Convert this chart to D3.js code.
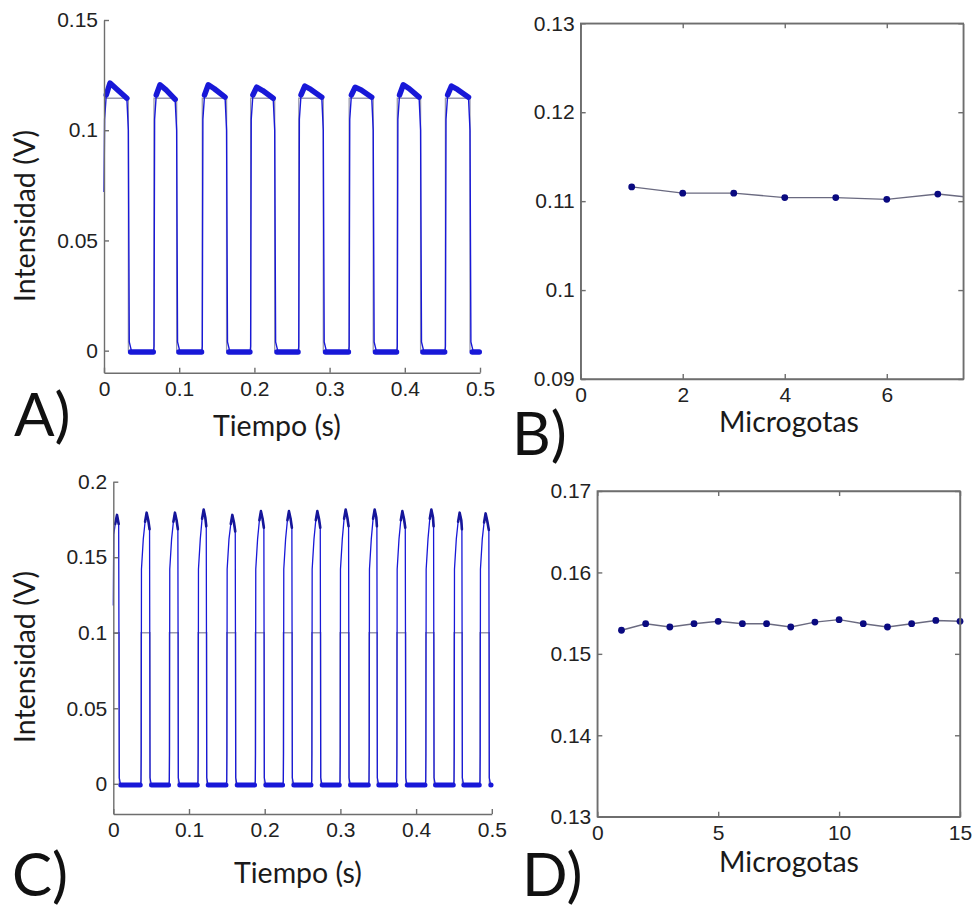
<!DOCTYPE html>
<html>
<head>
<meta charset="utf-8">
<script src="https://cdn.jsdelivr.net/npm/d3@7"></script>
<style>
  body { margin: 0; background: #ffffff; }
  svg { display: block; }
  .tick text { font-family: "Liberation Sans", Arial, sans-serif; font-size: 21px; fill: #222; }
  .ax path, .ax line { stroke: #6e6e6e; stroke-width: 1.4; }
  .title { font-family: Lato, "Open Sans", sans-serif; font-size: 28.5px; fill: #1a1a1a; }
  .letter { font-family: Lato, "Open Sans", sans-serif; font-size: 60px; fill: #111; }
</style>
</head>
<body>
<svg id="fig" width="975" height="914"></svg>
<script>
// ---------- Panel A: photodetector signal, 8 drops (time in s, intensity in V) ----------
const riseA = [0.000, 0.0665, 0.1307, 0.195, 0.259, 0.326, 0.390, 0.454];
const fallA = [0.0324, 0.0966, 0.163, 0.227, 0.2916, 0.358, 0.421, 0.4867];
const peakA = [0.1214, 0.1206, 0.1206, 0.1195, 0.1200, 0.1195, 0.1206, 0.1200];
const endA  = [0.1145, 0.1140, 0.1150, 0.1145, 0.1150, 0.1150, 0.1150, 0.1150];
const refLevelA = 0.1145;
const xTicksA = [0, 0.1, 0.2, 0.3, 0.4, 0.5];
const yTicksA = [0, 0.05, 0.1, 0.15];

// ---------- Panel B: mean intensity per microdrop ----------
const dropsB = [1, 2, 3, 4, 5, 6, 7, 8];
const valuesB = [0.1116, 0.1109, 0.1109, 0.1104, 0.1104, 0.1102, 0.1108, 0.1102];
const xTicksB = [0, 2, 4, 6];
const yTicksB = [0.09, 0.1, 0.11, 0.12, 0.13];

// ---------- Panel C: photodetector signal, 14 drops ----------
const riseC = [0.000, 0.0366, 0.0740, 0.1119, 0.1498, 0.1876, 0.2246, 0.2621, 0.2995, 0.3378, 0.3744, 0.4127, 0.4501, 0.4844];
const fallC = [0.0079, 0.0485, 0.0859, 0.1234, 0.1617, 0.1995, 0.2365, 0.2740, 0.3114, 0.3488, 0.3863, 0.4237, 0.4611, 0.4967];
const peakC = [0.1780, 0.1795, 0.1795, 0.1815, 0.1780, 0.1805, 0.1805, 0.1805, 0.1815, 0.1815, 0.1805, 0.1815, 0.1795, 0.1790];
const refLevelC = 0.1;
const xTicksC = [0, 0.1, 0.2, 0.3, 0.4, 0.5];
const yTicksC = [0, 0.05, 0.1, 0.15, 0.2];

// ---------- Panel D: mean intensity per microdrop ----------
const dropsD = [1, 2, 3, 4, 5, 6, 7, 8, 9, 10, 11, 12, 13, 14, 15];
const valuesD = [0.1529, 0.1537, 0.1533, 0.1537, 0.1540, 0.1537, 0.1537, 0.1533, 0.1539, 0.1542, 0.1537, 0.1533, 0.1537, 0.1541, 0.1540];
const xTicksD = [0, 5, 10, 15];
const yTicksD = [0.13, 0.14, 0.15, 0.16, 0.17];

const svg = d3.select("#fig");
const fmt = d3.format("~g");
const BLUE = "#1818d8";
const REF = "#9a9aae";
const line = d3.line();

// ---------- helpers ----------
function leftBottomAxes(g, x, y, xt, yt) {
  g.append("g").attr("class", "ax")
    .attr("transform", `translate(0,${y.range()[0]})`)
    .call(d3.axisBottom(x).tickValues(xt).tickFormat(fmt).tickSizeInner(-5).tickSizeOuter(0).tickPadding(8));
  g.append("g").attr("class", "ax")
    .attr("transform", `translate(${x.range()[0]},0)`)
    .call(d3.axisLeft(y).tickValues(yt).tickFormat(fmt).tickSizeInner(-5).tickSizeOuter(0).tickPadding(6));
}

function boxAxes(g, x, y, xt, yt) {
  leftBottomAxes(g, x, y, xt, yt);
  g.append("g").attr("class", "ax")
    .attr("transform", `translate(0,${y.range()[1]})`)
    .call(d3.axisTop(x).tickValues(xt).tickFormat("").tickSizeInner(-5).tickSizeOuter(0));
  g.append("g").attr("class", "ax")
    .attr("transform", `translate(${x.range()[1]},0)`)
    .call(d3.axisRight(y).tickValues(yt).tickFormat("").tickSizeInner(-5).tickSizeOuter(0));
}

function xTitle(text, cx, by) {
  svg.append("text").attr("class", "title").attr("x", cx).attr("y", by)
    .attr("text-anchor", "middle").text(text);
}
function yTitle(text, bx, cy) {
  svg.append("text").attr("class", "title").attr("text-anchor", "middle")
    .attr("transform", `translate(${bx},${cy}) rotate(-90)`).text(text);
}
function letter(text, x, by) {
  svg.append("text").attr("class", "letter").attr("x", x).attr("y", by).text(text);
}

// ---------- Panel A ----------
{
  const x = d3.scaleLinear([0, 0.5], [104, 480]);
  const y = d3.scaleLinear([-0.01, 0.15], [372.7, 20]);
  const g = svg.append("g");
  line.x(d => x(d[0])).y(d => y(d[1]));

  // reference square wave
  const ref = [];
  riseA.forEach((r, i) => {
    ref.push([r, i === 0 ? refLevelA : 0], [r, refLevelA], [fallA[i], refLevelA], [fallA[i], 0]);
    ref.push([i + 1 < riseA.length ? riseA[i + 1] : 0.5, 0]);
  });
  g.append("path").attr("d", line(ref)).attr("fill", "none").attr("stroke", REF).attr("stroke-width", 1.3);

  // measured trace
  const tr = [], plateaus = [], lows = [];
  riseA.forEach((r, i) => {
    const f = fallA[i], pk = peakA[i], en = endA[i];
    const next = i + 1 < riseA.length ? riseA[i + 1] : 0.5;
    if (i === 0) tr.push([0, 0.072]); else tr.push([r, 0.002]);
    const top = [[r + 0.003, 0.116], [r + 0.008, pk], [r + 0.016, (pk + en) / 2 + 0.001], [f - 0.002, en]];
    tr.push([r + 0.0008, 0.105], ...top, [f, 0.100], [f + 0.0012, 0.004], [f + 0.004, 0], [next - 0.0005, 0]);
    plateaus.push(top);
    lows.push([[f + 0.003, -0.0006], [next - 0.001, -0.0006]]);
  });
  g.append("path").attr("d", line(tr)).attr("fill", "none").attr("stroke", BLUE).attr("stroke-width", 1.4);
  plateaus.concat(lows).forEach(seg => {
    g.append("path").attr("d", line(seg)).attr("fill", "none").attr("stroke", BLUE)
      .attr("stroke-width", 5.5).attr("stroke-linejoin", "round").attr("stroke-linecap", "round");
  });

  leftBottomAxes(g, x, y, xTicksA, yTicksA);
}

// ---------- Panel B ----------
{
  const x = d3.scaleLinear([0, 7.5], [580.7, 963.3]);
  const y = d3.scaleLinear([0.09, 0.13], [379, 23.3]);
  const g = svg.append("g");
  svg.append("clipPath").attr("id", "clipB").append("rect")
    .attr("x", 580.7).attr("y", 23.3).attr("width", 963.3 - 580.7).attr("height", 379 - 23.3);
  const pts = dropsB.map((d, i) => [d, valuesB[i]]);
  const inner = g.append("g").attr("clip-path", "url(#clipB)");
  inner.append("path").attr("d", d3.line().x(d => x(d[0])).y(d => y(d[1]))(pts))
    .attr("fill", "none").attr("stroke", "#6a6a80").attr("stroke-width", 1.4);
  inner.selectAll("circle").data(pts).join("circle")
    .attr("cx", d => x(d[0])).attr("cy", d => y(d[1])).attr("r", 3.4).attr("fill", "#0a0a80");
  g.append("rect").attr("x", 580.7).attr("y", 23.3).attr("width", 963.3 - 580.7).attr("height", 379 - 23.3)
    .attr("fill", "none").attr("stroke", "#6e6e6e").attr("stroke-width", 1.4);
  boxAxes(g, x, y, xTicksB, yTicksB);
}

// ---------- Panel C ----------
{
  const x = d3.scaleLinear([0, 0.5], [113.3, 491.8]);
  const y = d3.scaleLinear([-0.02, 0.2], [814, 481.7]);
  const g = svg.append("g");
  line.x(d => x(d[0])).y(d => y(d[1]));

  const ref = [];
  riseC.forEach((r, i) => {
    ref.push([r, i === 0 ? refLevelC : 0], [r, refLevelC], [fallC[i], refLevelC], [fallC[i], 0]);
    ref.push([i + 1 < riseC.length ? riseC[i + 1] : 0.5, 0]);
  });
  g.append("path").attr("d", line(ref)).attr("fill", "none").attr("stroke", REF).attr("stroke-width", 1.3);

  const tr = [], tops = [], lows = [];
  riseC.forEach((r, i) => {
    const f = fallC[i], pk = peakC[i];
    const next = i + 1 < riseC.length ? riseC[i + 1] : 0.5;
    const w = 0.012, s = f - w;
    let top;
    if (i === 0) {
      tr.push([0, 0.118]);
      top = [[0.0006, 0.165], [s + 0.55 * w, 0.172], [s + 0.75 * w, pk], [f - 0.0008, pk - 0.006]];
    } else {
      tr.push([r, 0.002], [r + 0.0003, 0.02], [r + 0.0006, 0.142]);
      top = [[r + 0.25 * w, 0.162], [r + 0.45 * w, pk - 0.006], [r + 0.62 * w, pk], [r + 0.8 * w, pk - 0.005], [f - 0.0006, pk - 0.011]];
    }
    tr.push(...top, [f, 0.004], [f + 0.0015, 0], [next - 0.0004, 0]);
    tops.push(top.slice(1));
    lows.push([[f + 0.002, -0.0008], [next - 0.001, -0.0008]]);
  });
  g.append("path").attr("d", line(tr)).attr("fill", "none").attr("stroke", BLUE).attr("stroke-width", 1.3);
  tops.forEach(seg => g.append("path").attr("d", line(seg)).attr("fill", "none").attr("stroke", "#16169a")
    .attr("stroke-width", 2.6).attr("stroke-linejoin", "round").attr("stroke-linecap", "round"));
  lows.forEach(seg => g.append("path").attr("d", line(seg)).attr("fill", "none").attr("stroke", BLUE)
    .attr("stroke-width", 5).attr("stroke-linecap", "round"));

  leftBottomAxes(g, x, y, xTicksC, yTicksC);
}

// ---------- Panel D ----------
{
  const x = d3.scaleLinear([0, 15], [597.3, 960]);
  const y = d3.scaleLinear([0.13, 0.17], [816.7, 491]);
  const g = svg.append("g");
  const pts = dropsD.map((d, i) => [d, valuesD[i]]);
  g.append("path").attr("d", d3.line().x(d => x(d[0])).y(d => y(d[1]))(pts))
    .attr("fill", "none").attr("stroke", "#6a6a80").attr("stroke-width", 1.4);
  g.selectAll("circle").data(pts).join("circle")
    .attr("cx", d => x(d[0])).attr("cy", d => y(d[1])).attr("r", 3.4).attr("fill", "#0a0a80");
  g.append("rect").attr("x", 597.3).attr("y", 491).attr("width", 960 - 597.3).attr("height", 816.7 - 491)
    .attr("fill", "none").attr("stroke", "#6e6e6e").attr("stroke-width", 1.4);
  boxAxes(g, x, y, xTicksD, yTicksD);
}

// ---------- titles and panel letters ----------
yTitle("Intensidad (V)", 35, 216);
yTitle("Intensidad (V)", 35, 657);
xTitle("Tiempo (s)", 277, 436);
xTitle("Tiempo (s)", 298, 883);
xTitle("Microgotas", 789, 432);
xTitle("Microgotas", 789, 872);
letter("A)", 14, 436);
letter("B)", 512, 455);
letter("C)", 12, 896);
letter("D)", 522, 896);
</script>
</body>
</html>
